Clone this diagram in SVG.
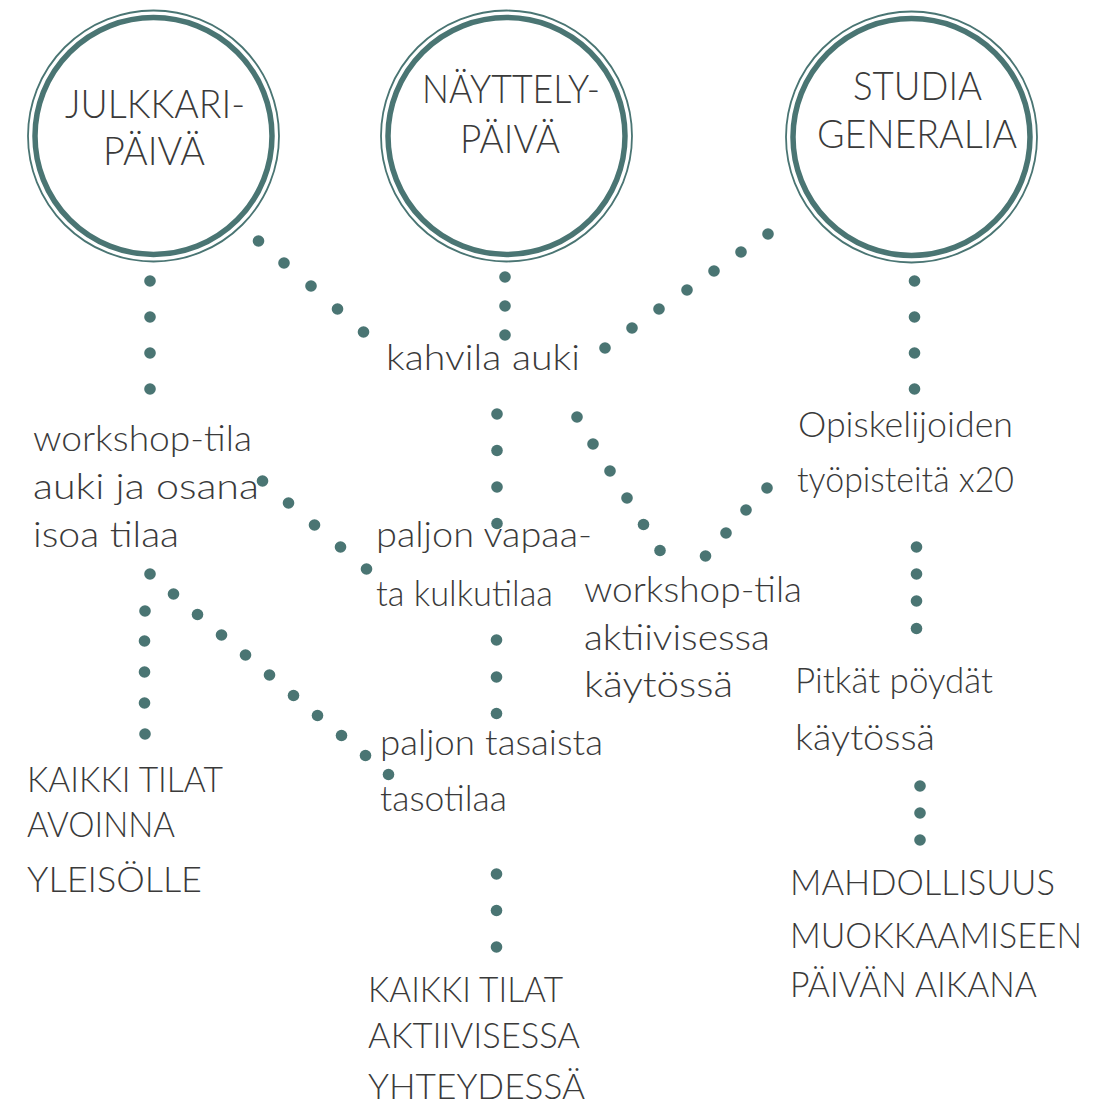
<svg xmlns="http://www.w3.org/2000/svg" width="1110" height="1108" viewBox="0 0 1110 1108">
<style>
.ring1{fill:none;stroke:#4a7573;stroke-width:1.8}
.ring2{fill:none;stroke:#4a7573;stroke-width:5.5}
.t{font-family:Lato,"Liberation Sans",sans-serif;font-weight:300;fill:#3a3a3a}
.h{font-size:40px}
.b{font-size:36px}
.dots circle{fill:#4a7573}
</style>
<rect width="1110" height="1108" fill="#ffffff"/>
<g id="connectors" class="dots">
<circle cx="258.5" cy="241" r="5.8"/><circle cx="284" cy="263" r="5.8"/><circle cx="311" cy="286" r="5.8"/><circle cx="337.5" cy="309" r="5.8"/><circle cx="363.5" cy="332" r="5.8"/>
<circle cx="505" cy="277" r="5.8"/><circle cx="505" cy="306" r="5.8"/><circle cx="505" cy="335" r="5.8"/>
<circle cx="768" cy="234" r="5.8"/><circle cx="741" cy="252" r="5.8"/><circle cx="714" cy="271" r="5.8"/><circle cx="687" cy="290" r="5.8"/><circle cx="659" cy="309" r="5.8"/><circle cx="632" cy="328" r="5.8"/><circle cx="605" cy="348" r="5.8"/>
<circle cx="150" cy="281" r="5.8"/><circle cx="150" cy="317" r="5.8"/><circle cx="150" cy="353" r="5.8"/><circle cx="150" cy="389" r="5.8"/>
<circle cx="914.5" cy="281" r="5.8"/><circle cx="914.5" cy="317" r="5.8"/><circle cx="914.5" cy="353" r="5.8"/><circle cx="914.5" cy="389" r="5.8"/>
<circle cx="497" cy="414" r="5.8"/><circle cx="497" cy="450.5" r="5.8"/><circle cx="497" cy="487" r="5.8"/><circle cx="497" cy="523.5" r="5.8"/>
<circle cx="577" cy="417" r="5.8"/><circle cx="593" cy="444" r="5.8"/><circle cx="610" cy="471" r="5.8"/><circle cx="627" cy="498" r="5.8"/><circle cx="643.5" cy="524.5" r="5.8"/><circle cx="660" cy="550.5" r="5.8"/>
<circle cx="767" cy="488" r="5.8"/><circle cx="746" cy="510" r="5.8"/><circle cx="726" cy="533" r="5.8"/><circle cx="705.5" cy="556" r="5.8"/>
<circle cx="262.5" cy="481" r="5.8"/><circle cx="288.5" cy="503" r="5.8"/><circle cx="314.5" cy="525" r="5.8"/><circle cx="340.5" cy="547" r="5.8"/><circle cx="366.5" cy="569" r="5.8"/>
<circle cx="150" cy="574" r="5.8"/><circle cx="173.5" cy="594" r="5.8"/><circle cx="197.5" cy="614.5" r="5.8"/><circle cx="221.5" cy="635" r="5.8"/><circle cx="245.5" cy="655" r="5.8"/><circle cx="269.5" cy="675" r="5.8"/><circle cx="293.5" cy="695.5" r="5.8"/><circle cx="317.5" cy="715.5" r="5.8"/><circle cx="341.5" cy="735.5" r="5.8"/><circle cx="365.5" cy="755.5" r="5.8"/><circle cx="388.5" cy="774.5" r="5.8"/>
<circle cx="145" cy="611" r="5.8"/><circle cx="144.5" cy="641" r="5.8"/><circle cx="144.5" cy="672" r="5.8"/><circle cx="144.5" cy="703" r="5.8"/><circle cx="145" cy="734" r="5.8"/>
<circle cx="496.5" cy="640" r="5.8"/><circle cx="496.5" cy="677" r="5.8"/><circle cx="496.5" cy="713.5" r="5.8"/>
<circle cx="496.5" cy="874" r="5.8"/><circle cx="496.5" cy="910.5" r="5.8"/><circle cx="496.5" cy="947" r="5.8"/>
<circle cx="916.5" cy="547" r="5.8"/><circle cx="916.5" cy="574" r="5.8"/><circle cx="916.5" cy="601" r="5.8"/><circle cx="916.5" cy="628.5" r="5.8"/>
<circle cx="920" cy="786" r="5.8"/><circle cx="920" cy="813" r="5.8"/><circle cx="920" cy="840" r="5.8"/>
</g>
<g id="julkkaripaiva">
<circle class="ring1" cx="153.5" cy="136" r="125.5"/>
<circle class="ring2" cx="153.5" cy="136" r="118.5"/>
<text class="t h" x="65" y="118" textLength="180" lengthAdjust="spacingAndGlyphs">JULKKARI-</text>
<text class="t h" x="103" y="165" textLength="102" lengthAdjust="spacingAndGlyphs">PÄIVÄ</text>
</g>
<g id="nayttelypaiva">
<circle class="ring1" cx="506.5" cy="136" r="125.5"/>
<circle class="ring2" cx="506.5" cy="136" r="118.5"/>
<text class="t h" x="422" y="103" textLength="178" lengthAdjust="spacingAndGlyphs">NÄYTTELY-</text>
<text class="t h" x="460" y="153" textLength="100" lengthAdjust="spacingAndGlyphs">PÄIVÄ</text>
</g>
<g id="studiageneralia">
<circle class="ring1" cx="911.5" cy="137" r="125.5"/>
<circle class="ring2" cx="911.5" cy="137" r="118.5"/>
<text class="t h" x="853" y="100" textLength="129" lengthAdjust="spacingAndGlyphs">STUDIA</text>
<text class="t h" x="817" y="148" textLength="200" lengthAdjust="spacingAndGlyphs">GENERALIA</text>
</g>
<g id="kahvila">
<text class="t b" x="386" y="370" textLength="194" lengthAdjust="spacingAndGlyphs">kahvila auki</text>
</g>
<g id="workshop-auki">
<text class="t b" x="33" y="451" textLength="219" lengthAdjust="spacingAndGlyphs">workshop-tila</text>
<text class="t b" x="33" y="499" textLength="226" lengthAdjust="spacingAndGlyphs">auki ja osana</text>
<text class="t b" x="33" y="547" textLength="146" lengthAdjust="spacingAndGlyphs">isoa tilaa</text>
</g>
<g id="vapaa-kulkutila">
<text class="t b" x="376" y="547" textLength="216" lengthAdjust="spacingAndGlyphs">paljon vapaa-</text>
<text class="t b" x="376" y="606" textLength="177" lengthAdjust="spacingAndGlyphs">ta kulkutilaa</text>
</g>
<g id="opiskelijoiden">
<text class="t b" x="798" y="437" textLength="215" lengthAdjust="spacingAndGlyphs">Opiskelijoiden</text>
<text class="t b" x="797" y="492" textLength="217" lengthAdjust="spacingAndGlyphs">työpisteitä x20</text>
</g>
<g id="workshop-aktiivinen">
<text class="t b" x="584" y="602" textLength="218" lengthAdjust="spacingAndGlyphs">workshop-tila</text>
<text class="t b" x="584" y="650" textLength="186" lengthAdjust="spacingAndGlyphs">aktiivisessa</text>
<text class="t b" x="584" y="697" textLength="149" lengthAdjust="spacingAndGlyphs">käytössä</text>
</g>
<g id="pitkat-poydat">
<text class="t b" x="795" y="693" textLength="198" lengthAdjust="spacingAndGlyphs">Pitkät pöydät</text>
<text class="t b" x="795" y="750" textLength="140" lengthAdjust="spacingAndGlyphs">käytössä</text>
</g>
<g id="tasotila">
<text class="t b" x="380" y="755" textLength="223" lengthAdjust="spacingAndGlyphs">paljon tasaista</text>
<text class="t b" x="380" y="811" textLength="127" lengthAdjust="spacingAndGlyphs">tasotilaa</text>
</g>
<g id="avoinna">
<text class="t b" x="27" y="792" textLength="196" lengthAdjust="spacingAndGlyphs">KAIKKI TILAT</text>
<text class="t b" x="27" y="837" textLength="148" lengthAdjust="spacingAndGlyphs">AVOINNA</text>
<text class="t b" x="27" y="892" textLength="175" lengthAdjust="spacingAndGlyphs">YLEISÖLLE</text>
</g>
<g id="yhteydessa">
<text class="t b" x="368" y="1002" textLength="195" lengthAdjust="spacingAndGlyphs">KAIKKI TILAT</text>
<text class="t b" x="368" y="1048" textLength="212" lengthAdjust="spacingAndGlyphs">AKTIIVISESSA</text>
<text class="t b" x="368" y="1099" textLength="217" lengthAdjust="spacingAndGlyphs">YHTEYDESSÄ</text>
</g>
<g id="muokkaaminen">
<text class="t b" x="790" y="895" textLength="265" lengthAdjust="spacingAndGlyphs">MAHDOLLISUUS</text>
<text class="t b" x="790" y="948" textLength="292" lengthAdjust="spacingAndGlyphs">MUOKKAAMISEEN</text>
<text class="t b" x="790" y="997" textLength="247" lengthAdjust="spacingAndGlyphs">PÄIVÄN AIKANA</text>
</g>
</svg>
